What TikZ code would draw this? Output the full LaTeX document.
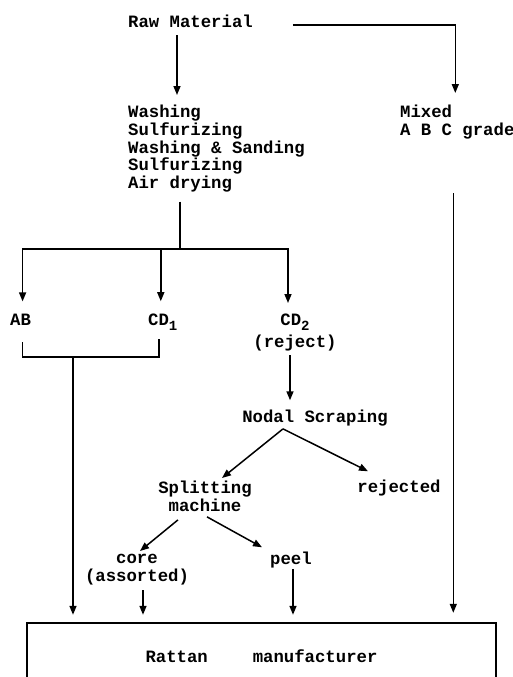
\documentclass[tikz,border=0pt]{standalone}
\usepackage{fontspec}
\setmonofont{Liberation Mono}
\usetikzlibrary{arrows.meta}
\newcommand\flowfont{\fontsize{17.3}{17.75}\selectfont\ttfamily\bfseries}
\newcommand\lowsub[1]{\raisebox{-5pt}{\fontsize{14}{14}\selectfont#1}}
\tikzset{
  txt/.style  = {inner sep=0pt, font=\flowfont},
  line/.style = {line width=1.5pt},
  arr/.style  = {line, -{Triangle[length=9pt,width=7pt]}},
}

\begin{document}
\begin{tikzpicture}[x=1pt, y=-1pt]
  \useasboundingbox (0,0) rectangle (513,677);
  % text nodes
  \node[txt, anchor=base west] (raw) at (128,28) {Raw Material};
  \node[txt, anchor=north west, align=left] (proc) at (128,105)
    {Washing\\Sulfurizing\\Washing \& Sanding\\Sulfurizing\\Air drying};
  \node[txt, anchor=north west, align=left] (mixed) at (400,105) {Mixed\\A B C grade};
  \node[txt, anchor=base west] (ab) at (10,325) {AB};
  \node[txt, anchor=base west] (cd1) at (148,325) {CD\lowsub{1}};
  \node[txt, anchor=north, align=center] (cd2) at (295,314) {CD\lowsub{2}\\[4pt](reject)};
  \node[txt, anchor=base] (nodal) at (315,422) {Nodal Scraping};
  \node[txt, anchor=north, align=center] (splt) at (205,481) {Splitting\\machine};
  \node[txt, anchor=base] (rej) at (399,492) {rejected};
  \node[txt, anchor=north, align=center] (core) at (137,554) {core\\(assorted)};
  \node[txt, anchor=base] (peel) at (291,564) {peel};
  \node[txt, anchor=base, minimum width=469pt, text height=39pt, text depth=15pt]
    (mfr) at (261.5,662) {Rattan\hspace{2.6em}manufacturer};
  \draw[line] (mfr.south west) |- (mfr.north east) -- (mfr.south east);

  % connectors
  \draw[arr, shorten <=7pt, shorten >=10pt] ([xshift=49pt]raw.south west) -- ([xshift=49pt]raw.south west |- proc.north);
  \draw[arr, shorten <=40pt, shorten >=12pt] ([yshift=-3pt]raw.east) -| ([xshift=-2pt]mixed.north);
  \coordinate (fork) at (180,249);
  \draw[line, shorten <=9pt] (fork |- proc.south) -- (fork);
  \draw[arr, shorten >=12pt] (fork) -| ([xshift=2pt]ab.north);
  \draw[arr, shorten >=12pt] (fork) -| ([xshift=-2pt]cd1.north);
  \draw[arr, shorten >=11pt] (fork) -| ([xshift=-7pt]cd2.north);
  \coordinate (grp) at (73,357);
  \draw[line, shorten <=17pt, shorten >=9pt] ([xshift=2pt]ab.south) |- (grp) -| ([xshift=-4pt]cd1.south);
  \draw[arr, shorten >=8pt] (grp) -- (grp |- mfr.north);
  \draw[arr, shorten <=4pt, shorten >=9pt] ([xshift=-5pt]cd2.south) -- ([xshift=-5pt]cd2.south |- nodal.north);
  \draw[arr] ([xshift=-32pt,yshift=-3pt]nodal.south) -- ([xshift=17pt,yshift=3pt]splt.north);
  \draw[arr] ([xshift=-32pt,yshift=-3pt]nodal.south) -- ([xshift=-31pt,yshift=8pt]rej.north);
  \draw[arr] ([xshift=-27pt,yshift=-8pt]splt.south) -- ([xshift=3pt,yshift=3pt]core.north);
  \draw[arr] ([xshift=2pt,yshift=-5pt]splt.south) -- ([xshift=-29pt,yshift=4pt]peel.north);
  \draw[arr, shorten <=5pt, shorten >=8pt] ([xshift=6pt]core.south) -- ([xshift=6pt]core.south |- mfr.north);
  \draw[arr, shorten <=1pt, shorten >=8pt] ([xshift=2pt]peel.south) -- ([xshift=2pt]peel.south |- mfr.north);
  \draw[arr, shorten <=54pt, shorten >=10pt] ([xshift=-4pt]mixed.south) -- ([xshift=-4pt]mixed.south |- mfr.north);
\end{tikzpicture}
\end{document}
